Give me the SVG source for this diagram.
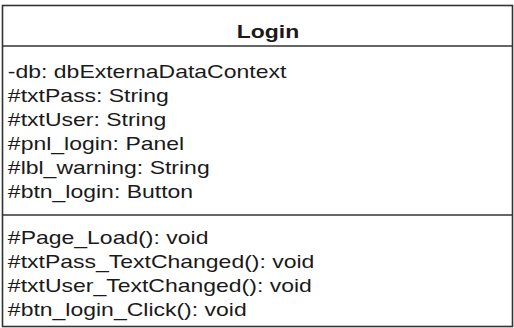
<svg xmlns="http://www.w3.org/2000/svg" width="514" height="328" viewBox="0 0 514 328">
  <style>
    .frame { fill: #ffffff; stroke: #333333; stroke-width: 1.6; }
    .rule { stroke: #333333; stroke-width: 1.6; }
    .title { font-family: "Liberation Sans", Arial, sans-serif; font-size: 19px; font-weight: bold; fill: #1a1a1a; }
    .member { font-family: "Liberation Sans", Arial, sans-serif; font-size: 19px; fill: #1a1a1a; }
  </style>
  <rect width="514" height="328" fill="#ffffff"/>
  <g id="class-login">
    <rect class="frame" x="2.5" y="5.5" width="510" height="321"/>
    <line class="rule" x1="2.5" y1="46" x2="512.5" y2="46"/>
    <line class="rule" x1="2.5" y1="215" x2="512.5" y2="215"/>
    <!-- labels are drawn slightly wide -->
    <g transform="scale(1.21,1)">
      <text class="title" x="221.5" y="38" text-anchor="middle">Login</text>
      <g class="member">
        <text x="6.5" y="78.5">-db: dbExternaDataContext</text>
        <text x="6.5" y="102.5">#txtPass: String</text>
        <text x="6.5" y="126">#txtUser: String</text>
        <text x="6.5" y="150">#pnl_login: Panel</text>
        <text x="6.5" y="174">#lbl_warning: String</text>
        <text x="6.5" y="198">#btn_login: Button</text>
        <text x="6.5" y="244">#Page_Load(): void</text>
        <text x="6.5" y="268">#txtPass_TextChanged(): void</text>
        <text x="6.5" y="292">#txtUser_TextChanged(): void</text>
        <text x="6.5" y="316">#btn_login_Click(): void</text>
      </g>
    </g>
  </g>
</svg>
